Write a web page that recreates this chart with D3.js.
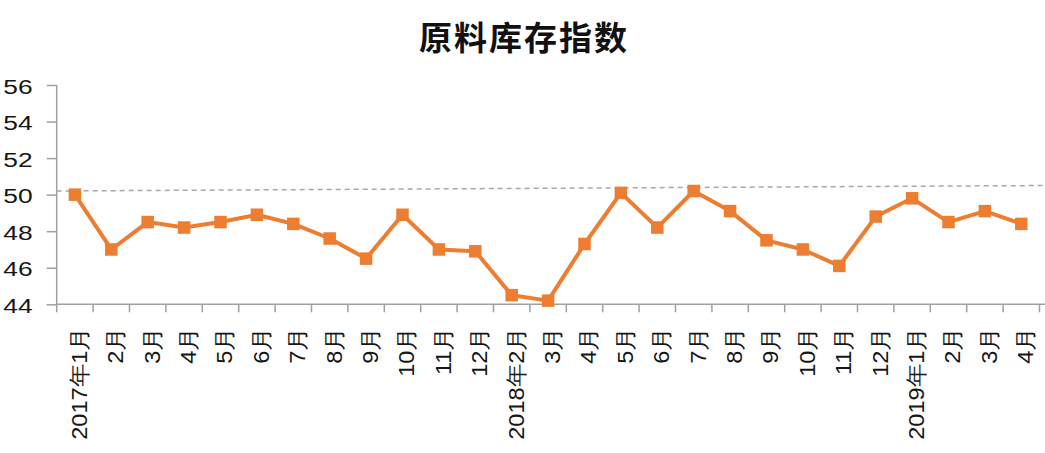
<!DOCTYPE html>
<html>
<head>
<meta charset="utf-8">
<script src="https://cdn.jsdelivr.net/npm/d3@7"></script>
<style>
  html, body { margin: 0; padding: 0; background: #ffffff; }
  svg { display: block; }
</style>
</head>
<body>
<svg id="chart" width="1045" height="453"></svg>
<script>
// Raw material inventory index, monthly, 2017-01 .. 2019-04
const months = [
  "2017年1月", "2月", "3月", "4月", "5月", "6月", "7月", "8月", "9月", "10月", "11月", "12月",
  "2018年2月", "3月", "4月", "5月", "6月", "7月", "8月", "9月", "10月", "11月", "12月",
  "2019年1月", "2月", "3月", "4月"
];
const inventoryIndex = [
  50.0, 47.0, 48.5, 48.2, 48.5, 48.9, 48.4, 47.6, 46.5, 48.9, 47.0, 46.9,
  44.5, 44.2, 47.3, 50.1, 48.2, 50.2, 49.1, 47.5, 47.0, 46.1, 48.8,
  49.8, 48.5, 49.1, 48.4
];
const yTicks = [44, 46, 48, 50, 52, 54, 56];
// dashed reference line, value at left and right end
const referenceLine = [50.2, 50.5];
const title = "原料库存指数";

const svg = d3.select("#chart");
const W = 1045;

const x = d3.scaleBand().domain(months.map((d, i) => i)).range([56.7, 1039.5]).padding(0);
const y = d3.scaleLinear().domain([44, 56]).range([304.3, 85]);

const axisColor = "#a0a0a0";
const lineColor = "#ED7D31";
const textColor = "#161616";

// title
svg.append("text")
  .attr("x", 524).attr("y", 50)
  .attr("text-anchor", "middle")
  .attr("font-family", "'Noto Sans CJK SC', sans-serif")
  .attr("font-weight", "bold")
  .attr("font-size", 33)
  .attr("letter-spacing", 2)
  .attr("fill", "#111")
  .text(title);

// y axis
const yAxis = d3.axisLeft(y).tickValues(yTicks).tickSize(10).tickFormat(d3.format("d"));
const gy = svg.append("g").attr("transform", "translate(56.7,0)").call(yAxis);
gy.select(".domain").attr("stroke", axisColor).attr("stroke-width", 1.5)
  .attr("d", `M0,${y(56)}V${y(44)}`);
gy.selectAll(".tick line").attr("stroke", axisColor).attr("stroke-width", 1.5);
gy.selectAll(".tick text").remove();
gy.selectAll(".tick").append("text")
  .attr("transform", "translate(-24,1) scale(1.32,1)")
  .attr("text-anchor", "end")
  .attr("dy", "0.36em")
  .attr("font-family", "'Liberation Sans', Arial, sans-serif")
  .attr("font-size", 20)
  .attr("fill", textColor)
  .text(d => d);

// x axis: line, ticks on category boundaries, rotated labels
const x0 = x.range()[0];
const step = x.step();
const gx = svg.append("g").attr("transform", `translate(0,${y(44)})`);
gx.append("line")
  .attr("x1", x0).attr("x2", W).attr("y1", 0).attr("y2", 0)
  .attr("stroke", axisColor).attr("stroke-width", 1.5);
gx.selectAll("line.tk")
  .data(d3.range(months.length + 1))
  .join("line").attr("class", "tk")
  .attr("x1", i => x0 + i * step).attr("x2", i => x0 + i * step)
  .attr("y1", 0).attr("y2", 8)
  .attr("stroke", axisColor).attr("stroke-width", 1.5);
gx.selectAll("text")
  .data(months)
  .join("text")
  .attr("transform", (d, i) => `translate(${x(i) + x.bandwidth() / 2 + 4},22.5) rotate(-90) scale(1.07,1)`)
  .attr("text-anchor", "end")
  .attr("dy", "0.36em")
  .attr("font-family", "'Liberation Sans', Arial, sans-serif")
  .attr("font-size", 22)
  .attr("fill", textColor)
  .text(d => d);

// dashed reference line
svg.append("line")
  .attr("x1", x0).attr("x2", W)
  .attr("y1", y(referenceLine[0])).attr("y2", y(referenceLine[1]))
  .attr("stroke", "#a8a8a8").attr("stroke-width", 1.5)
  .attr("stroke-dasharray", "5,4");

// series line
const cx = (d, i) => x(i) + x.bandwidth() / 2;
svg.append("path")
  .datum(inventoryIndex)
  .attr("fill", "none")
  .attr("stroke", lineColor)
  .attr("stroke-width", 4)
  .attr("stroke-linejoin", "round")
  .attr("d", d3.line().x(cx).y(d => y(d)));

// square markers
const m = 12.5;
svg.selectAll("rect.mk")
  .data(inventoryIndex)
  .join("rect").attr("class", "mk")
  .attr("x", (d, i) => cx(d, i) - m / 2)
  .attr("y", d => y(d) - m / 2)
  .attr("width", m).attr("height", m)
  .attr("fill", lineColor);
</script>
</body>
</html>
